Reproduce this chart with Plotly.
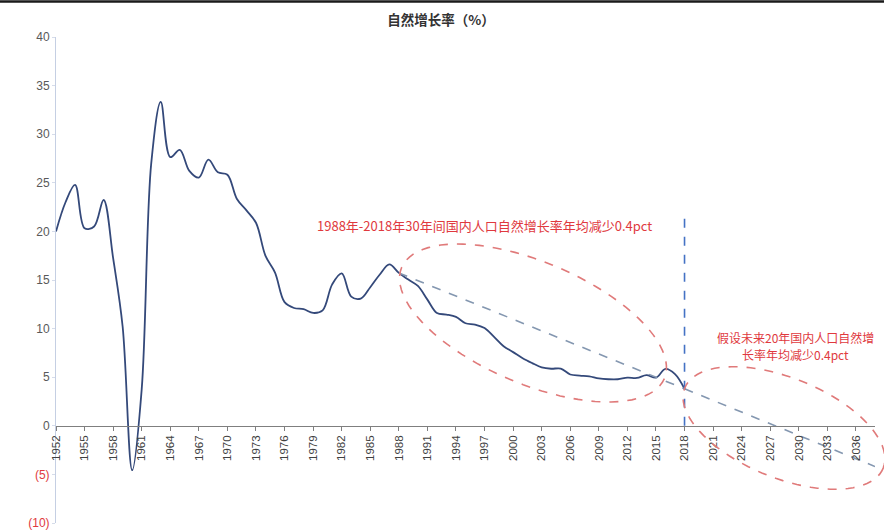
import math
import plotly.graph_objects as go

# ---------------- data ----------------
years = list(range(1952, 2019))
growth_rate = [20.00, 23.00, 24.79, 20.32, 20.50, 23.23, 17.24, 10.19, -4.57, 3.78,
               26.99, 33.33, 27.64, 28.38, 26.22, 25.53, 27.38, 26.08, 25.83, 23.33,
               22.16, 20.89, 17.48, 15.77, 12.72, 12.12, 12.00, 11.61, 11.87, 14.55,
               15.68, 13.29, 13.08, 14.26, 15.57, 16.61, 15.73, 15.04, 14.39, 12.98,
               11.60, 11.45, 11.21, 10.55, 10.42, 10.06, 9.14, 8.18, 7.58, 6.95,
               6.45, 6.01, 5.87, 5.89, 5.28, 5.17, 5.08, 4.87, 4.79, 4.79,
               4.95, 4.92, 5.21, 4.96, 5.86, 5.32, 3.81]

trend_years = [1988, 2018]
trend_vals = [15.73, 3.81]
proj_years = [2018, 2038]
proj_vals = [3.81, -4.19]
divider_year = 2018
divider_vals = [0, 22]

x_tick_years = list(range(1952, 2037, 3))
y_tick_vals = [-10, -5, 0, 5, 10, 15, 20, 25, 30, 35, 40]

title_text = "自然增长率（%）"
note1 = "1988年-2018年30年间国内人口自然增长率年均减少0.4pct"
note2_line1 = "假设未来20年国内人口自然增"
note2_line2 = "长率年均减少0.4pct"

# ---------------- layout geometry ----------------
W, H = 884, 530
L, R, T, B = 56, 9, 37, 7
PW, PH = W - L - R, H - T - B
X0, X1 = 1952, 2038
Y0, Y1 = -10, 40

RED = "#e0393e"
ELL = "#e07a7a"


def px_to_paper(px, py):
    return (px - L) / PW, (H - B - py) / PH


def ellipse_path(cx, cy, a, b, deg, n=90):
    th = math.radians(deg)
    pts = []
    for i in range(n):
        t = 2 * math.pi * i / n
        ex = cx + a * math.cos(th) * math.cos(t) - b * math.sin(th) * math.sin(t)
        ey = cy + a * math.sin(th) * math.cos(t) + b * math.cos(th) * math.sin(t)
        pts.append(px_to_paper(ex, ey))
    return "M " + " L ".join(f"{x:.4f},{y:.4f}" for x, y in pts) + " Z"


def ytext(v):
    if v < 0:
        return f'<span style="color:{RED}">({abs(v)})</span>'
    return str(v)


fig = go.Figure()

fig.add_trace(go.Scatter(
    x=years, y=growth_rate, mode="lines",
    line=dict(color="#34497a", width=1.8, shape="spline", smoothing=1.0),
    hoverinfo="x+y", showlegend=False))

fig.add_trace(go.Scatter(
    x=trend_years, y=trend_vals, mode="lines",
    line=dict(color="#8497b0", width=1.6, dash="dash"), showlegend=False))

fig.add_trace(go.Scatter(
    x=proj_years, y=proj_vals, mode="lines",
    line=dict(color="#8497b0", width=1.6, dash="dash"), showlegend=False))

fig.add_trace(go.Scatter(
    x=[divider_year, divider_year], y=divider_vals, mode="lines",
    line=dict(color="#4472c4", width=1.6, dash="dash"), showlegend=False))

shapes = [
    dict(type="path", xref="paper", yref="paper",
         path=ellipse_path(533, 323, 142.6, 61, 22.9),
         line=dict(color=ELL, width=1.6, dash="dash")),
    dict(type="path", xref="paper", yref="paper",
         path=ellipse_path(784, 428, 107, 50, 22),
         line=dict(color=ELL, width=1.6, dash="dash")),
]
# top border line of the picture
tx0, ty = px_to_paper(0, 1.5)
tx1, _ = px_to_paper(W, 1.5)
shapes.append(dict(type="line", xref="paper", yref="paper",
                   x0=tx0, x1=tx1, y0=ty, y1=ty,
                   line=dict(color="#1a1a1a", width=2.5)))

n1x, n1y = px_to_paper(484, 225)
n2x, n2y1 = px_to_paper(795, 337)
_, n2y2 = px_to_paper(795, 354)

note_font = dict(size=13, color=RED, family="Noto Sans CJK SC")
annotations = [
    dict(text=note1, xref="paper", yref="paper", x=n1x, y=n1y,
         showarrow=False, xanchor="center", yanchor="middle", font=note_font),
    dict(text=note2_line1, xref="paper", yref="paper", x=n2x, y=n2y1,
         showarrow=False, xanchor="center", yanchor="middle",
         font=dict(size=12, color=RED, family="Noto Sans CJK SC")),
    dict(text=note2_line2, xref="paper", yref="paper", x=n2x, y=n2y2,
         showarrow=False, xanchor="center", yanchor="middle",
         font=dict(size=12, color=RED, family="Noto Sans CJK SC")),
]

fig.update_layout(
    width=W, height=H,
    margin=dict(l=L, r=R, t=T, b=B, autoexpand=False),
    paper_bgcolor="white", plot_bgcolor="white",
    font=dict(family="Liberation Sans, Noto Sans CJK SC", color="#404040"),
    title=dict(text="<b>" + title_text + "</b>", xref="container", yref="container",
               x=441 / W, y=1 - 20 / H, xanchor="center", yanchor="middle",
               font=dict(size=13.5, color="#333333", family="Noto Sans CJK SC")),
    shapes=shapes,
    annotations=annotations,
    xaxis=dict(
        type="linear", range=[X0, X1], anchor="free", position=(0 - Y0) / (Y1 - Y0),
        tickvals=x_tick_years, ticktext=[str(y) for y in x_tick_years],
        tickangle=-90, tickfont=dict(size=11.5, color="#404040"),
        showline=True, linecolor="#7f7f7f", linewidth=1,
        ticks="outside", ticklen=4, tickcolor="#7f7f7f",
        showgrid=False, zeroline=False, automargin=False),
    yaxis=dict(
        range=[Y0, Y1], tickvals=y_tick_vals, ticktext=[ytext(v) for v in y_tick_vals],
        tickfont=dict(size=12, color="#595959"), ticklabeloverflow="allow",
        showline=True, linecolor="#c5cfe3", linewidth=1,
        ticks="outside", ticklen=3, tickcolor="#d6dcea",
        showgrid=False, zeroline=False, automargin=False),
)

fig.write_html("out.html", config={"displayModeBar": False},
               post_script="document.body.style.margin='0';document.body.style.overflow='hidden';")
